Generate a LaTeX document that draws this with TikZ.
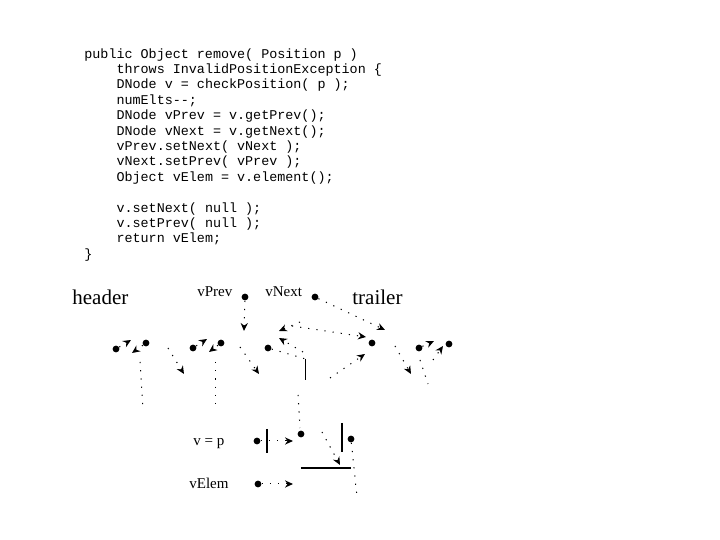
\documentclass[tikz,border=0pt]{standalone}
\usepackage{fontspec}
\setmainfont{Liberation Serif}
\setmonofont{Liberation Mono}
\usetikzlibrary{positioning, arrows.meta}
\newcommand{\codeind}{\hphantom{xxxx}}

\begin{document}
\begin{tikzpicture}[
    x=0.5pt, y=-0.5pt,
    dot/.style={
        fill=black,
        circle,
        inner sep=0pt,
        minimum size=3.4pt
    },
    bar/.style={
        draw,
        line width=0.6pt
    },
    link/.style={
        dash pattern=on 0.6pt off 3.5pt,
        line width=0.5pt
    },
    code/.style={
        anchor=north west,
        inner sep=0pt,
        align=left,
        font=\fontsize{6.7}{7.7}\selectfont\ttfamily
    },
    biglabel/.style={anchor=base west, inner sep=0pt, font=\fontsize{10.5}{12}\selectfont},
    smalllabel/.style={anchor=base west, inner sep=0pt, font=\fontsize{7.5}{9}\selectfont},
    >={Stealth[length=4pt, width=3.6pt]}
]
\useasboundingbox (0,0) rectangle (720,540);

% ==========================================
% CODE
% ==========================================
\node[code] (src) at (84,48) {%
public Object remove( Position p )\\
\codeind throws InvalidPositionException \{\\
\codeind DNode v = checkPosition( p );\\
\codeind numElts--;\\
\codeind DNode vPrev = v.getPrev();\\
\codeind DNode vNext = v.getNext();\\
\codeind vPrev.setNext( vNext );\\
\codeind vNext.setPrev( vPrev );\\
\codeind Object vElem = v.element();\\[7.7pt]
\codeind v.setNext( null );\\
\codeind v.setPrev( null );\\
\codeind return vElem;\\
\}};

% ==========================================
% LIST
% ==========================================

% Labels
\node[biglabel] (header) at (72,305) {header};
\node[biglabel] (trailer) at (352,305) {trailer};
\node[smalllabel] (vprevlbl) at (197,297) {vPrev};
\node[smalllabel] (vnextlbl) at (265,297) {vNext};

% Pointer variables
\node[dot] (pdot) at (245,297) {};
\node[dot] (ndot) at (315,297) {};

% Dots inside the nodes
\node[dot] (hl) at (116,349) {};
\node[dot] (hr) at (146,343) {};
\node[dot] (al) at (193,348) {};
\node[dot] (ar) at (221,343) {};
\node[dot] (vd) at (268,348) {};
\node[dot] (bd) at (372,343) {};
\node[dot] (tl) at (419,348) {};
\node[dot] (tr) at (449,344) {};

% Free ends
\coordinate (h1) at (131,340);
\coordinate (h2) at (132,353);
\coordinate (a1) at (207,339);
\coordinate (a2) at (209,352);
\coordinate (x0) at (168,348);
\coordinate (x1) at (184,374);
\coordinate (p1) at (244,331);
\coordinate (d0) at (240,347);
\coordinate (d1) at (259,374);
\coordinate (w0) at (300,322);
\coordinate (w1) at (279,331);
\coordinate (u0) at (303,352);
\coordinate (u1) at (279,338);
\coordinate (f0) at (292,326);
\coordinate (f1) at (366,337);
\coordinate (n1) at (385,330);
\coordinate (g0) at (330,378);
\coordinate (g1) at (365,354);
\coordinate (e0) at (395,346);
\coordinate (e1) at (411,374);
\coordinate (t1) at (434,341);
\coordinate (t0) at (433,360);
\coordinate (t2) at (443,346);
\coordinate (vtop) at (305.7,359);
\coordinate (vbot) at (305.7,380);

% Connecting Arrows
\draw[link,->] (hl) -- (h1);
\draw[link,->] (hr) -- (h2);
\draw[link,->] (al) -- (a1);
\draw[link,->] (ar) -- (a2);
\draw[link,->] (x0) -- (x1);
\draw[link,->] (pdot) -- (p1);
\draw[link,->] (d0) -- (d1);
\draw[link,->] (w0) -- (w1);
\draw[link,->] (u0) -- (u1);
\draw[link,->] (f0) -- (f1);
\draw[link,->] (ndot) -- (n1);
\draw[link,->] (g0) -- (g1);
\draw[link,->] (e0) -- (e1);
\draw[link,->] (tl) -- (t1);
\draw[link,->] (t0) -- (t2);
\draw[link] (vd) -- (vtop);
\draw[bar] (vtop) -- (vbot);

% Element links (faint)
\draw[link] (140,362) -- (143,410);
\draw[link] (216,362) -- (216,410);
\draw[link] (420,360) -- (428,384);
\draw[link] (298,395) -- (300,428);

% ==========================================
% REMOVED NODE
% ==========================================
\node[smalllabel] (vplbl) at (193,446) {v = p};
\node[smalllabel] (velbl) at (189,489) {vElem};

\node[dot] (vp) at (257,441) {};
\node[dot] (ve) at (258,484) {};
\node[dot] (r1) at (301,434) {};
\node[dot] (r2) at (351,439) {};

\coordinate (vp1) at (293,441);
\coordinate (ve1) at (293,484);
\coordinate (q0) at (322,432);
\coordinate (q1) at (340,465);

\draw[link,->] (vp) -- (vp1);
\draw[link,->] (ve) -- (ve1);
\draw[link,->] (q0) -- (q1);
\draw[link] (r2) -- (357,497);

\draw[bar] (267,429) -- (267,453);
\draw[bar] (342,423) -- (342,452);
\draw[bar] (301,468) -- (351,468);

\end{tikzpicture}
\end{document}
